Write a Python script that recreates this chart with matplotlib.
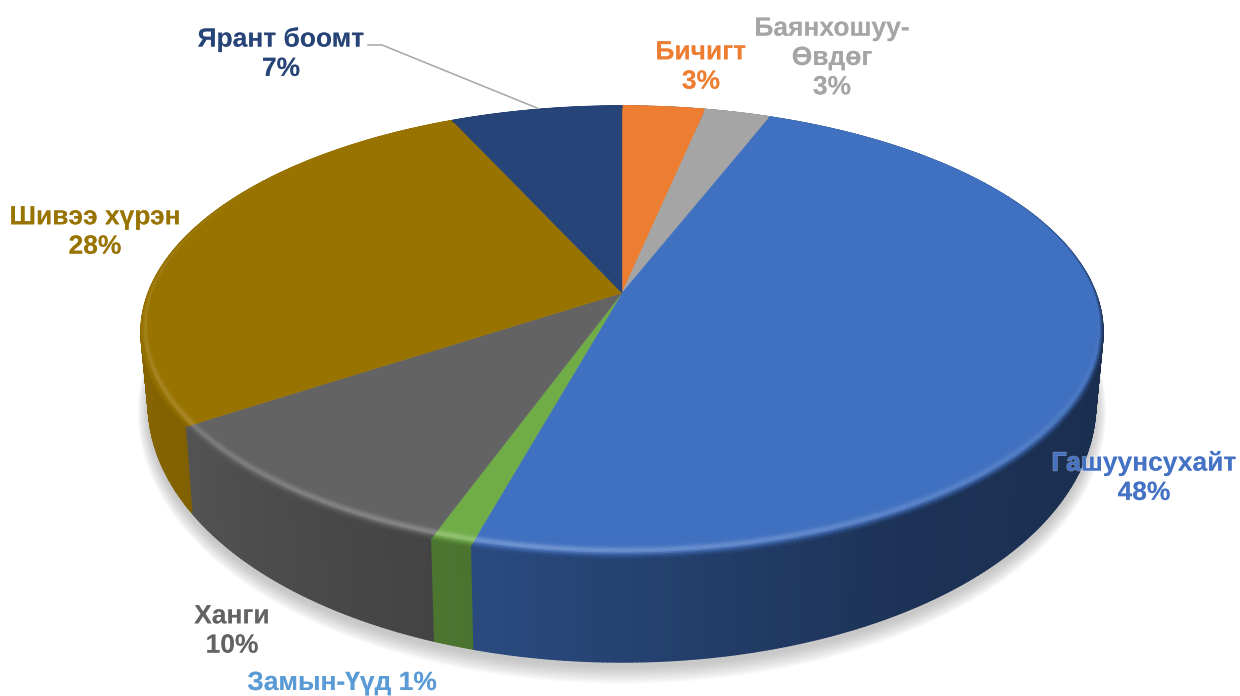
import numpy as np
import matplotlib
matplotlib.use("Agg")
import matplotlib.pyplot as plt
from matplotlib.collections import PolyCollection
from matplotlib.colors import to_rgb
import matplotlib.patheffects as pe

plt.rcParams['font.family'] = ['Liberation Sans', 'DejaVu Sans']

# data, clockwise from 12 o'clock
names = ["Бичигт", "Баянхошуу-\nӨвдөг", "Гашуунсухайт", "Замын-Үүд", "Ханги", "Шивээ хүрэн", "Ярант боомт"]
values = [3.3, 2.6, 48.4, 1.2, 10.2, 27.5, 6.8]
colors = ["#ED7D31", "#A5A5A5", "#4070C0", "#70AD47", "#636363", "#997300", "#264478"]
label_colors = ["#ED7D31", "#A5A5A5", "#4472C4", "#5B9BD5", "#636363", "#997300", "#264478"]
label_pos = [(701, 67), (832, 58), (1144, 478), (342, 683), (232, 631), (95, 232), (281, 54)]

# pie geometry in pixels, perspective tilt a
cx, cy = 622, 293
a = 0.1725
k = 219.3
rx = 473.8


def project(th, r=1.0, depth=False):
    # th in degrees clockwise from the back of the disc
    t = np.radians(th)
    u = r * np.sin(t)
    v = -r * np.cos(t)
    w = 1 - a * v
    x = cx + rx * u / w
    y = cy + k * v / w
    if depth:
        x = cx + (x - cx) * 0.985
        y = y + 64 + 40 * v
    return x, y


def side_shade(th):
    return np.interp(th, [60, 100, 150, 195, 240, 300], [0.40, 0.40, 0.45, 0.66, 0.85, 0.92])


def glow(th):
    return np.interp(th, [90, 130, 190, 240, 290, 310], [0, 0.1, 0.25, 0.15, 0.08, 0])


def blur(th):
    return np.interp(th, [60, 100, 235, 265], [0, 1, 1, 0])


edges = np.concatenate([[0], np.cumsum(values)]) / np.sum(values) * 360

fig = plt.figure(figsize=(12.4, 6.96), dpi=100)
ax = fig.add_axes([0, 0, 1, 1])
ax.set_xlim(0, 1240)
ax.set_ylim(696, 0)
ax.axis('off')

# soft shadow under the pie
ths = np.linspace(0, 360, 361)
bx, by = project(ths, depth=True)
for s in np.linspace(1, 0, 14):
    ax.fill(cx + (bx - cx) * (1 + 0.022 * s), 330 + (by - 330) * (1 + 0.05 * s) + 5, color="#808080", alpha=0.035, lw=0, zorder=1)

# outer wall
quads, quad_cols = [], []
step = 0.5
for i in range(len(values)):
    base = np.array(to_rgb(colors[i]))
    n = max(int((edges[i + 1] - edges[i]) / step), 2)
    tt = np.linspace(edges[i], edges[i + 1], n + 1)
    for t0, t1 in zip(tt[:-1], tt[1:]):
        x0, y0 = project(t0)
        x1, y1 = project(t1)
        x2, y2 = project(t1, depth=True)
        x3, y3 = project(t0, depth=True)
        quads.append([(x0, y0), (x1, y1), (x2, y2), (x3, y3)])
        quad_cols.append(base * side_shade((t0 + t1) / 2))
ax.add_collection(PolyCollection(quads, facecolors=quad_cols, edgecolors=quad_cols, linewidths=1.0, zorder=2))

# top face
for i in range(len(values)):
    tt = np.linspace(edges[i], edges[i + 1], 200)
    x, y = project(tt)
    ax.fill(np.r_[cx, x], np.r_[cy, y], color=colors[i], lw=0.3, zorder=3)

# bevel along the rim
ts = np.linspace(0, 1, 11)
quads, quad_cols = [], []
for i in range(len(values)):
    base = np.array(to_rgb(colors[i]))
    n = max(int((edges[i + 1] - edges[i]) / step), 2)
    tt = np.linspace(edges[i], edges[i + 1], n + 1)
    for t0, t1 in zip(tt[:-1], tt[1:]):
        m = (t0 + t1) / 2
        w0 = 0.012 + 0.035 * max(-np.cos(np.radians(t0)), 0)
        w1 = 0.012 + 0.035 * max(-np.cos(np.radians(t1)), 0)
        for a0, a1 in zip(ts[:-1], ts[1:]):
            p0 = project(t0, 1 - w0 * a0)
            p1 = project(t1, 1 - w1 * a0)
            p2 = project(t1, 1 - w1 * a1)
            p3 = project(t0, 1 - w0 * a1)
            q = (a0 + a1) / 2
            c = base + (1 - base) * glow(m) * np.exp(-((q - 0.55) / 0.22) ** 2)
            mix = blur(m) * np.clip(1 - q / 0.45, 0, 1)
            c = c * (1 - mix) + base * side_shade(m) * mix
            quads.append([p0, p1, p2, p3])
            quad_cols.append(np.clip(c, 0, 1))
ax.add_collection(PolyCollection(quads, facecolors=quad_cols, edgecolors=quad_cols, linewidths=0.7, zorder=4))

# leader line for Ярант боомт
ax.plot([368, 382, 537], [45, 45, 108], color="#A6A6A6", lw=1.1, zorder=5)

# labels
for i in range(len(values)):
    sep = " " if names[i] == "Замын-Үүд" else "\n"
    ax.text(label_pos[i][0], label_pos[i][1], f"{names[i]}{sep}{round(values[i])}%",
            color=label_colors[i], fontsize=19, fontweight='bold', ha='center', va='center',
            linespacing=1.28, zorder=6,
            path_effects=[pe.withStroke(linewidth=1, foreground=(1, 1, 1, 0.35))])

fig.savefig("out.png", dpi=100)
